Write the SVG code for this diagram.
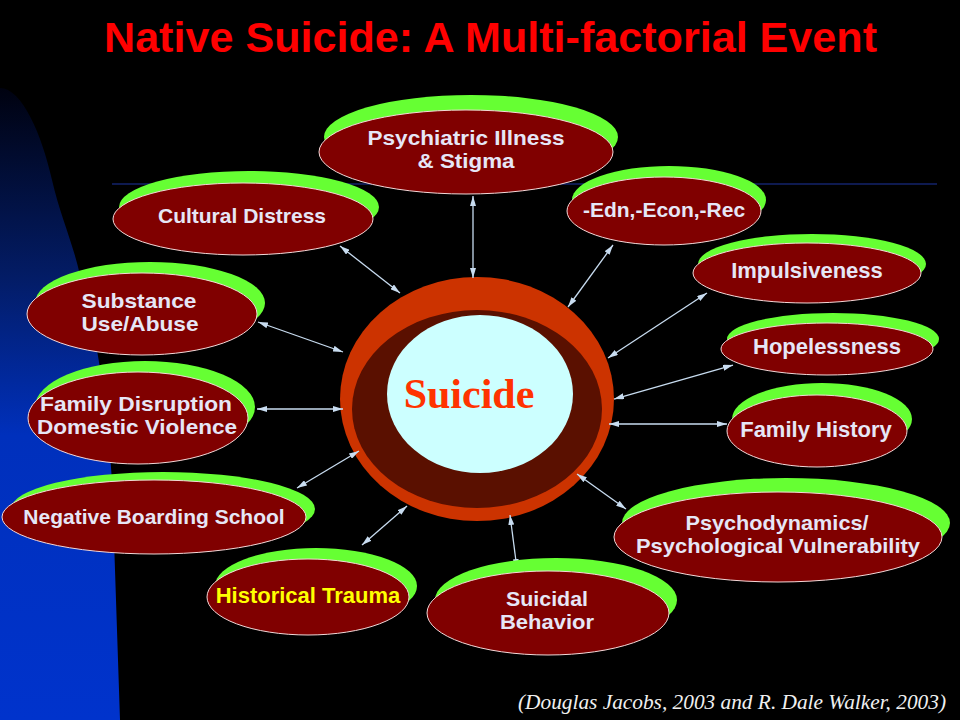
<svg xmlns="http://www.w3.org/2000/svg" width="960" height="720" viewBox="0 0 960 720">
<defs>
<linearGradient id="blueG" x1="0" y1="0" x2="0" y2="1">
<stop offset="0" stop-color="#000210"/>
<stop offset="0.3" stop-color="#031c66"/>
<stop offset="0.55" stop-color="#0030bc"/>
<stop offset="1" stop-color="#0033cc"/>
</linearGradient>
<marker id="ah" viewBox="0 0 10 6" refX="10" refY="3" markerWidth="10" markerHeight="6" markerUnits="userSpaceOnUse" orient="auto-start-reverse">
<path d="M0,0 L10,3 L0,6 z" fill="#c8dcf0"/>
</marker>
</defs>
<style>
.g{fill:#66ff33}
.r{fill:#800000;stroke:#f4d8d8;stroke-width:1}
.t{font-family:"Liberation Sans",Arial,sans-serif;font-weight:bold;fill:#e6e6f6;text-anchor:middle;font-size:22px}
.t2{font-size:20.5px}
.c{stroke:#c8dcf0;stroke-width:1.3;fill:none;marker-start:url(#ah);marker-end:url(#ah)}
</style>
<rect x="0" y="0" width="960" height="720" fill="#000000"/>
<path d="M0,88 C22,88 42,135 52,180 C60,215 72,240 80,275 C90,320 98,345 102,385 C108,430 110,450 112,480 L120,720 L0,720 Z" fill="url(#blueG)"/>
<line x1="112" y1="184" x2="937" y2="184" stroke="#1c34a0" stroke-width="1.2"/>
<text x="104" y="52" font-family="'Liberation Sans',Arial,sans-serif" font-weight="bold" font-size="42" fill="#ff0000" textLength="773" lengthAdjust="spacingAndGlyphs">Native Suicide:  A Multi-factorial Event</text>

<g id="center">
<ellipse cx="477" cy="399" rx="137" ry="122" fill="#cc3300"/>
<ellipse cx="477" cy="409" rx="125" ry="99" fill="#5a1000"/>
<ellipse cx="480" cy="394" rx="93" ry="79" fill="#ccffff"/>
<text x="469" y="408" text-anchor="middle" font-family="'Liberation Serif','Times New Roman',serif" font-weight="bold" font-size="42" fill="#ff3300">Suicide</text>
</g>

<g id="connectors">
<line class="c" x1="473" y1="196" x2="473" y2="278"/>
<line class="c" x1="340" y1="246" x2="400" y2="293"/>
<line class="c" x1="258" y1="322" x2="343" y2="352"/>
<line class="c" x1="257" y1="409" x2="343" y2="409"/>
<line class="c" x1="297" y1="488" x2="359" y2="451"/>
<line class="c" x1="362" y1="545" x2="407" y2="506"/>
<line class="c" x1="517" y1="569" x2="510" y2="515"/>
<line class="c" x1="577" y1="474" x2="626" y2="509"/>
<line class="c" x1="609" y1="424" x2="727" y2="424"/>
<line class="c" x1="614" y1="399" x2="733" y2="365"/>
<line class="c" x1="608" y1="358" x2="707" y2="293"/>
<line class="c" x1="568" y1="307" x2="613" y2="245"/>
</g>

<g id="n-psychiatric">
<ellipse class="g" cx="471" cy="137" rx="147" ry="42"/>
<ellipse class="r" cx="466" cy="152" rx="147" ry="42"/>
<text class="t t2" x="466" y="145" textLength="197" lengthAdjust="spacingAndGlyphs">Psychiatric Illness</text>
<text class="t t2" x="466" y="168" textLength="97" lengthAdjust="spacingAndGlyphs">&amp; Stigma</text>
</g>
<g id="n-cultural">
<ellipse class="g" cx="249" cy="207" rx="130" ry="36"/>
<ellipse class="r" cx="243" cy="219" rx="130" ry="36"/>
<text class="t" x="242" y="223" style="font-size:21px">Cultural Distress</text>
</g>
<g id="n-substance">
<ellipse class="g" cx="150" cy="303" rx="115" ry="41"/>
<ellipse class="r" cx="142" cy="314" rx="115" ry="41"/>
<text class="t t2" x="139" y="308" textLength="115" lengthAdjust="spacingAndGlyphs">Substance</text>
<text class="t t2" x="140" y="331" textLength="117" lengthAdjust="spacingAndGlyphs">Use/Abuse</text>
</g>
<g id="n-family-disruption">
<ellipse class="g" cx="145" cy="407" rx="110" ry="46"/>
<ellipse class="r" cx="138" cy="418" rx="110" ry="46"/>
<text class="t t2" x="136" y="411" textLength="192" lengthAdjust="spacingAndGlyphs">Family Disruption</text>
<text class="t t2" x="137" y="434" textLength="200" lengthAdjust="spacingAndGlyphs">Domestic Violence</text>
</g>
<g id="n-boarding">
<ellipse class="g" cx="163" cy="509" rx="152" ry="37"/>
<ellipse class="r" cx="154" cy="517" rx="152" ry="37"/>
<text class="t" x="154" y="524" style="font-size:21px">Negative Boarding School</text>
</g>
<g id="n-historical">
<ellipse class="g" cx="316" cy="586" rx="101" ry="38"/>
<ellipse class="r" cx="308" cy="597" rx="101" ry="38"/>
<text class="t" x="308" y="603" style="fill:#ffff00">Historical Trauma</text>
</g>
<g id="n-suicidal">
<ellipse class="g" cx="556" cy="600" rx="121" ry="42"/>
<ellipse class="r" cx="548" cy="613" rx="121" ry="42"/>
<text class="t t2" x="547" y="606" textLength="82" lengthAdjust="spacingAndGlyphs">Suicidal</text>
<text class="t t2" x="547" y="629" textLength="94" lengthAdjust="spacingAndGlyphs">Behavior</text>
</g>
<g id="n-psychodynamics">
<ellipse class="g" cx="786" cy="523" rx="164" ry="45"/>
<ellipse class="r" cx="778" cy="537" rx="164" ry="45"/>
<text class="t t2" x="777" y="530" textLength="183" lengthAdjust="spacingAndGlyphs">Psychodynamics/</text>
<text class="t t2" x="778" y="553" textLength="284" lengthAdjust="spacingAndGlyphs">Psychological Vulnerability</text>
</g>
<g id="n-family-history">
<ellipse class="g" cx="822" cy="419" rx="90" ry="36"/>
<ellipse class="r" cx="817" cy="431" rx="90" ry="36"/>
<text class="t" x="816" y="437">Family History</text>
</g>
<g id="n-hopelessness">
<ellipse class="g" cx="833" cy="339" rx="106" ry="26"/>
<ellipse class="r" cx="827" cy="349" rx="106" ry="26"/>
<text class="t" x="827" y="354">Hopelessness</text>
</g>
<g id="n-impulsiveness">
<ellipse class="g" cx="812" cy="264" rx="114" ry="30"/>
<ellipse class="r" cx="807" cy="273" rx="114" ry="30"/>
<text class="t" x="807" y="278">Impulsiveness</text>
</g>
<g id="n-edn">
<ellipse class="g" cx="669" cy="200" rx="97" ry="34"/>
<ellipse class="r" cx="664" cy="211" rx="97" ry="34"/>
<text class="t" x="664" y="217" style="font-size:21px">-Edn,-Econ,-Rec</text>
</g>

<text x="518" y="709" font-family="'Liberation Serif','Times New Roman',serif" font-style="italic" font-size="21" fill="#f0f0f0" textLength="428" lengthAdjust="spacingAndGlyphs">(Douglas Jacobs, 2003 and R. Dale Walker, 2003)</text>
</svg>
